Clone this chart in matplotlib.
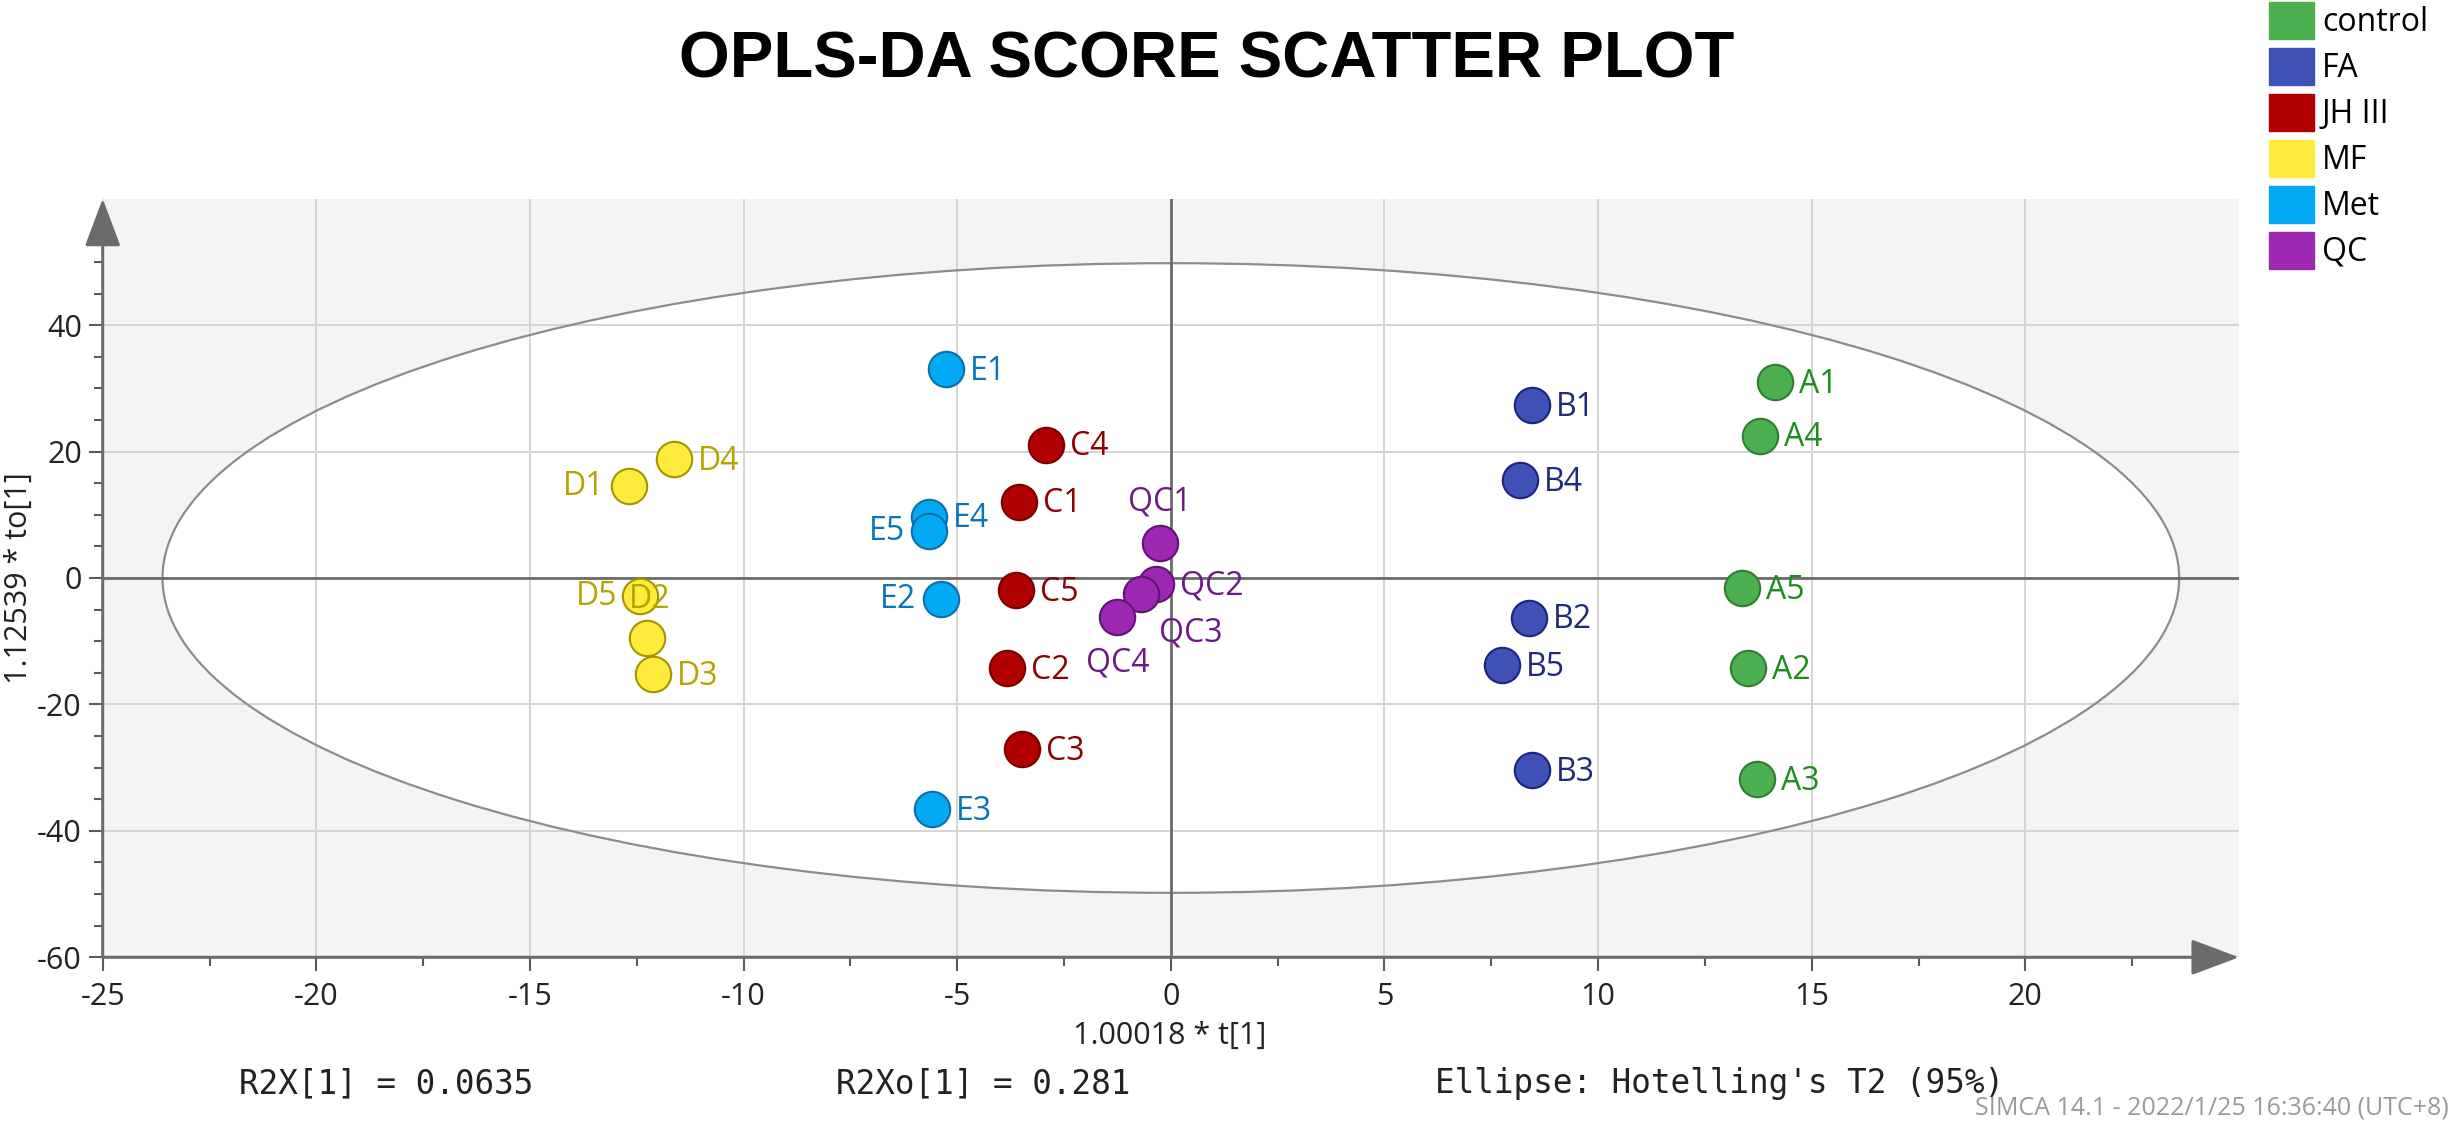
import matplotlib
matplotlib.use("Agg")
import matplotlib.pyplot as plt
from matplotlib import font_manager
from matplotlib.patches import Ellipse, Patch

plt.rcParams["axes.unicode_minus"] = False

# OPLS-DA scores: t[1] (x) and to[1] (y)
groups = ["control", "FA", "JH III", "MF", "Met", "QC"]

control_names = ["A1", "A2", "A3", "A4", "A5"]
control_t = [14.14, 13.51, 13.72, 13.78, 13.37]
control_to = [31.0, -14.3, -31.8, 22.5, -1.6]

fa_names = ["B1", "B2", "B3", "B4", "B5"]
fa_t = [8.45, 8.38, 8.45, 8.18, 7.75]
fa_to = [27.3, -6.3, -30.4, 15.5, -13.8]

jh_names = ["C1", "C2", "C3", "C4", "C5"]
jh_t = [-3.56, -3.84, -3.49, -2.93, -3.63]
jh_to = [12.1, -14.3, -27.1, 21.1, -1.9]

mf_names = ["D1", "D2", "D3", "D4", "D5"]
mf_t = [-12.69, -12.27, -12.13, -11.64, -12.43]
mf_to = [14.5, -9.5, -15.2, 18.8, -2.9]

met_names = ["E1", "E2", "E3", "E4", "E5"]
met_t = [-5.26, -5.39, -5.60, -5.66, -5.66]
met_to = [33.0, -3.4, -36.6, 9.7, 7.4]

qc_names = ["QC1", "QC2", "QC3", "QC4"]
qc_t = [-0.26, -0.34, -0.71, -1.25]
qc_to = [5.5, -1.0, -2.6, -6.2]

# Hotelling's T2 (95%) ellipse semi-axes
ellipse_t = 23.6
ellipse_to = 49.8

r2x = 0.0635
r2xo = 0.281

fill_colors = ["#4caf50", "#3f51b5", "#b00000", "#ffeb3b", "#03a9f4", "#9c27b0"]
edge_colors = ["#2e7d32", "#1a237e", "#7a0000", "#a39400", "#0d6fa8", "#5e1470"]
text_colors = ["#1e8c1e", "#1f2a7a", "#8b0000", "#b5a300", "#0a74b8", "#6b1b85"]

# where a label sits if not to the right of its point (pixels, ha)
label_pos = {
    "D1": (-24, 0, "right"), "D5": (-22, 0, "right"), "E5": (-24, 0, "right"),
    "E2": (-24, 0, "right"), "QC1": (0, 41, "center"), "QC3": (18, -39, "left"),
    "QC4": (0, -46, "center"), "D2": (-18, 39, "left"),
}

sans = ["Open Sans", "DejaVu Sans"]
font_names = {f.name for f in font_manager.fontManager.ttflist}
if "Liberation Sans Narrow" in font_names:
    title_family, title_size = "Liberation Sans Narrow", 57
else:
    title_family, title_size = "Liberation Sans", 47

fig = plt.figure(figsize=(24.51, 11.22), dpi=100)
ax = fig.add_axes([0.0419, 0.1468, 0.8716, 0.6761])
ax.set_xlim(-25, 25)
ax.set_ylim(-60, 60)
ax.set_facecolor("#f4f4f4")
for s in ax.spines.values():
    s.set_visible(False)

ax.add_patch(Ellipse((0, 0), 2 * ellipse_t, 2 * ellipse_to, facecolor="white",
                     edgecolor="none", zorder=0.2))
ax.add_patch(Ellipse((0, 0), 2 * ellipse_t, 2 * ellipse_to, facecolor="none",
                     edgecolor="#8c8c8c", lw=1.6, zorder=1.0))

ax.set_xticks(range(-25, 25, 5))
ax.set_xticks([x + 2.5 for x in range(-25, 25, 5)], minor=True)
ax.set_yticks(range(-60, 60, 20))
ax.set_yticks([y for y in range(-55, 55, 5) if y % 20 != 0], minor=True)
ax.set_axisbelow(True)
ax.grid(True, which="major", color="#d4d4d4", lw=1.4)
ax.tick_params(which="major", direction="out", length=10, width=1.5, color="#5a5a5a",
               labelsize=22, labelcolor="#222222")
ax.tick_params(which="minor", direction="out", length=6.5, width=1.5, color="#5a5a5a")
ax.tick_params(axis="x", which="major", pad=8)
ax.tick_params(axis="y", which="major", pad=5)
for lab in ax.get_xticklabels() + ax.get_yticklabels():
    lab.set_family(sans)

ax.axhline(0, color="#6b6b6b", lw=2.0, zorder=1.2)
ax.axvline(0, color="#6b6b6b", lw=2.0, zorder=1.2)

arrow = dict(arrowstyle="-|>,head_length=1.2,head_width=0.45", color="#6b6b6b",
             lw=2.2, shrinkA=0, shrinkB=0, mutation_scale=25)
ax.annotate("", xy=(-25, 60), xytext=(-25, -60), arrowprops=arrow,
            annotation_clip=False, zorder=2)
ax.annotate("", xy=(25, -60), xytext=(-25, -60), arrowprops=arrow,
            annotation_clip=False, zorder=2)

series = [
    (control_names, control_t, control_to),
    (fa_names, fa_t, fa_to),
    (jh_names, jh_t, jh_to),
    (mf_names, mf_t, mf_to),
    (met_names, met_t, met_to),
    (qc_names, qc_t, qc_to),
]
for i, (names, xs, ys) in enumerate(series):
    ax.scatter(xs, ys, s=650, c=fill_colors[i], edgecolors=edge_colors[i],
               linewidths=1.5, zorder=3)
    for name, x, y in zip(names, xs, ys):
        dx, dy, ha = label_pos.get(name, (24, -2, "left"))
        ax.annotate(name, (x, y), xytext=(dx * 0.72, dy * 0.72), textcoords="offset points",
                    ha=ha, va="center", fontsize=23, family=sans,
                    color=text_colors[i], zorder=4)

fig.text(1207 / 2451, 1 - 60 / 1122, "OPLS-DA SCORE SCATTER PLOT", ha="center",
         va="center", fontsize=title_size, fontweight="bold", family=title_family)

fig.text(19 / 2451, 1 - 578 / 1122, "1.12539 * to[1]", rotation=90, ha="center",
         va="center", fontsize=22, family=sans, color="#222222")
fig.text(1170 / 2451, 1 - 1036 / 1122, "1.00018 * t[1]", ha="center", va="center",
         fontsize=22, family=sans, color="#222222")

mono = dict(fontsize=23.5, family="DejaVu Sans Mono", color="#222222", va="baseline")
fig.text(239 / 2451, 1 - 1093 / 1122, f"R2X[1] = {r2x}", **mono)
fig.text(836 / 2451, 1 - 1093 / 1122, f"R2Xo[1] = {r2xo}", **mono)
fig.text(1435 / 2451, 1 - 1093 / 1122, "Ellipse: Hotelling's T2 (95%)", **mono)
fig.text(2449 / 2451, 1 - 1108 / 1122, "SIMCA 14.1 - 2022/1/25 16:36:40 (UTC+8)",
         ha="right", va="center", fontsize=18, family=sans, color="#9a9a9a")

handles = [Patch(facecolor=fill_colors[i], edgecolor=fill_colors[i], label=g)
           for i, g in enumerate(groups)]
fig.legend(handles=handles, loc="upper left", bbox_to_anchor=(2269 / 2451, 1 - 2 / 1122),
           frameon=False, borderpad=0, borderaxespad=0, handlelength=1.41,
           handleheight=1.41, handletextpad=0.25, labelspacing=0.275,
           prop={"family": sans, "size": 23})

fig.savefig("out.png", dpi=100)
